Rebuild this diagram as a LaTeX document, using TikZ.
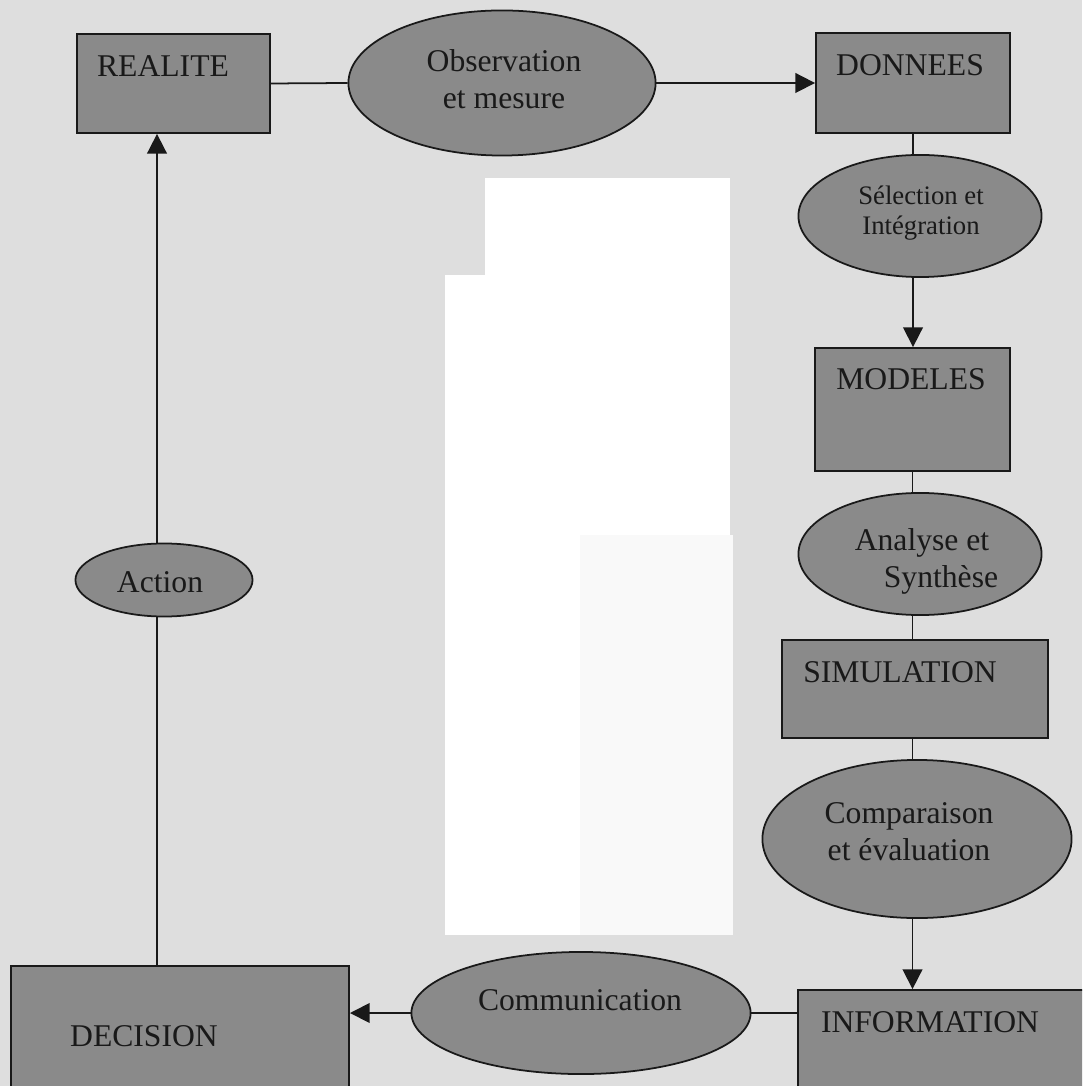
\documentclass[tikz,border=0pt]{standalone}
\usepackage{fontspec}
\setmainfont{Liberation Serif}
\usetikzlibrary{arrows.meta,shapes.geometric}
\definecolor{bgc}{RGB}{222,222,222}
\definecolor{fillc}{RGB}{138,138,138}
\definecolor{inkc}{RGB}{25,25,25}
\tikzset{
  boxn/.style={draw=inkc, line width=0.5pt, fill=fillc, rectangle, inner sep=0pt},
  elln/.style={draw=inkc, line width=0.5pt, fill=fillc, ellipse, inner sep=0pt},
  lbl/.style={font=\fontsize{9}{10.5}\selectfont, text=inkc, align=center, inner sep=0pt},
  lblsmall/.style={font=\fontsize{7.6}{8.6}\selectfont, text=inkc, align=center, inner sep=0pt},
  conn/.style={draw=inkc, line width=0.5pt},
  arr/.style={conn, -{Triangle[length=5.6pt,width=5.6pt]}},
}
\begin{document}
\begin{tikzpicture}[x=0.01cm,y=-0.01cm]
\clip (0,0) rectangle (1082,1086);
\fill[bgc] (0,0) rectangle (1082,1086);
% scan artefact: light patches
\fill[white] (485,178) rectangle (730,535);
\fill[white] (445,275) rectangle (730,535);
\fill[white] (445,535) rectangle (580,935);
\fill[gray!5] (580,535) rectangle (733,935);

% boxes
\node[boxn, minimum width=1.93cm, minimum height=0.99cm] (realite) at (173.5,83.5) {};
\node[boxn, minimum width=1.94cm, minimum height=1.00cm] (donnees) at (913,83) {};
\node[boxn, minimum width=1.95cm, minimum height=1.23cm] (modeles) at (912.5,409.5) {};
\node[boxn, minimum width=2.66cm, minimum height=0.98cm] (sim) at (915,689) {};
\node[boxn, minimum width=3.02cm, minimum height=1.30cm] (info) at (949,1055) {};
\node[boxn, minimum width=3.38cm, minimum height=1.54cm] (decision) at (180,1043) {};

% ellipses
\node[elln, minimum width=3.07cm, minimum height=1.45cm] (obs) at (502,83) {};
\node[elln, minimum width=2.43cm, minimum height=1.22cm] (sel) at (920,216) {};
\node[elln, minimum width=2.43cm, minimum height=1.22cm] (ana) at (920,554) {};
\node[elln, minimum width=3.09cm, minimum height=1.58cm] (comp) at (917,839) {};
\node[elln, minimum width=3.39cm, minimum height=1.22cm] (comm) at (581,1013) {};
\node[elln, minimum width=1.77cm, minimum height=0.73cm] (action) at (164,580) {};

% labels
\node[lbl, anchor=base] (t-realite) at (163,77) {REALITE};
\node[lbl, anchor=base] (t-donnees) at (910,76) {DONNEES};
\node[lbl, anchor=base] (t-modeles) at (911,390) {MODELES};
\node[lbl, anchor=base] (t-sim) at (900,682) {SIMULATION};
\node[lbl, anchor=base] (t-info) at (930,1032) {INFORMATION};
\node[lbl, anchor=base] (t-decision) at (144,1046) {DECISION};
\node[lbl, anchor=base] (t-action) at (160,592) {Action};
\node[lbl, anchor=base] (t-comm) at (580,1010) {Communication};
\node[lbl] (t-obs) at (504,79) {Observation\\et mesure};
\node[lblsmall] (t-sel) at (921,213) {Sélection et\\Intégration};
\node[lbl] (t-ana) at (922,561) {Analyse et\\\hspace*{1.2em}Synthèse};
\node[lbl] (t-comp) at (909,832) {Comparaison\\et évaluation};

% connectors: top row
\draw[conn] (realite.east) -- (obs.west);
\draw[arr] (obs.east) -- (donnees.west);
% right column
\draw[conn] (donnees.south) -- (donnees.south |- sel.north);
\draw[arr] (donnees.south |- sel.south) -- (donnees.south |- modeles.north);
\draw[conn] (modeles.south) -- (modeles.south |- ana.north);
\draw[conn] (modeles.south |- ana.south) -- (modeles.south |- sim.north);
\draw[conn] (modeles.south |- sim.south) -- (modeles.south |- comp.north);
\draw[arr] (modeles.south |- comp.south) -- (modeles.south |- info.north);
% bottom row
\draw[conn] (comm.east) -- (comm.east -| info.west);
\draw[arr] (comm.west) -- (comm.west -| decision.east);
% left column
\coordinate (lc) at (157,0);
\draw[conn] (lc |- decision.north) -- (lc |- action.south);
\draw[arr] (lc |- action.north) -- (lc |- realite.south);
\end{tikzpicture}
\end{document}
